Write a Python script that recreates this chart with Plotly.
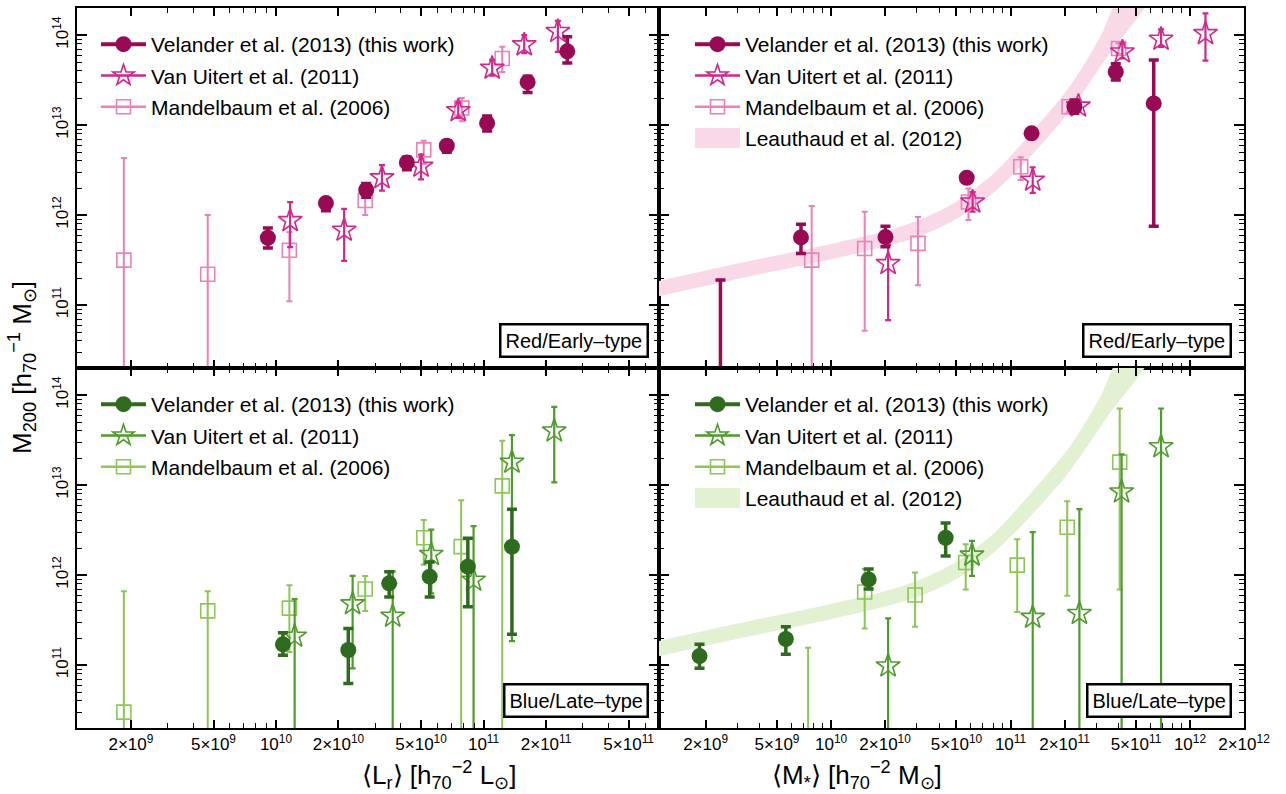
import math
import plotly.graph_objects as go

W, H = 1286, 794
FONT = "Liberation Sans"

# ---------------- data ----------------
# Top-left: red / early-type, vs <L_r>
tl_vel_x = [9.14e9, 1.74e10, 2.72e10, 4.27e10, 6.65e10, 1.04e11, 1.63e11, 2.53e11]
tl_vel_y = [5.6e11, 1.36e12, 1.9e12, 3.85e12, 5.9e12, 1.05e13, 3.0e13, 6.6e13]
tl_vel_hi = [7.2e11, 1.48e12, 2.25e12, 4.4e12, 6.7e12, 1.26e13, 3.5e13, 9.6e13]
tl_vel_lo = [4.3e11, 1.12e12, 1.58e12, 3.2e12, 5.0e12, 8.6e12, 2.3e13, 4.9e13]

tl_vu_x = [1.17e10, 2.13e10, 3.24e10, 5.0e10, 7.55e10, 1.1e11, 1.57e11, 2.28e11]
tl_vu_y = [8.7e11, 6.8e11, 2.6e12, 3.5e12, 1.45e13, 4.3e13, 7.8e13, 1.1e14]
tl_vu_hi = [1.39e12, 1.17e12, 3.6e12, 4.7e12, 1.78e13, 5.3e13, 1.0e14, 1.44e14]
tl_vu_lo = [4.4e11, 3.1e11, 1.87e12, 2.5e12, 1.2e13, 3.55e13, 6.3e13, 6.5e13]

tl_man_x = [1.85e9, 4.69e9, 1.16e10, 2.69e10, 5.15e10, 7.85e10, 1.23e11]
tl_man_y = [3.16e11, 2.2e11, 4.07e11, 1.45e12, 5.3e12, 1.55e13, 5.5e13]
tl_man_hi = [4.3e12, 1.0e12, 6.5e11, 1.8e12, 6.7e12, 2.0e13, 7.4e13]
tl_man_lo = [1e9, 1e9, 1.1e11, 1.0e12, 3.7e12, 1.1e13, 3.9e13]

# Top-right: red / early-type, vs <M*>
tr_vel_x = [2.42e9, 6.8e9, 2.01e10, 5.7e10, 1.31e11, 2.27e11, 3.86e11, 6.28e11]
tr_vel_y = [1e10, 5.65e11, 5.7e11, 2.6e12, 8.1e12, 1.6e13, 3.9e13, 1.74e13]
tr_vel_hi = [1.9e11, 7.9e11, 7.5e11, 2.8e12, 8.7e12, 1.9e13, 4.8e13, 5.3e13]
tr_vel_lo = [1e9, 3.75e11, 4.45e11, 2.4e12, 7.5e12, 1.35e13, 3.16e13, 7.5e11]

tr_vu_x = [2.08e10, 6.15e10, 1.33e11, 2.39e11, 4.2e11, 6.9e11, 1.22e12]
tr_vu_y = [2.9e11, 1.4e12, 2.45e12, 1.63e13, 6.5e13, 9.0e13, 1.04e14]
tr_vu_hi = [4.65e11, 1.8e12, 3.4e12, 1.9e13, 8.1e13, 1.16e14, 1.74e14]
tr_vu_lo = [6.8e10, 1.09e12, 1.77e12, 1.4e13, 5.5e13, 7.4e13, 5.2e13]

tr_man_x = [7.8e9, 1.54e10, 3.05e10, 5.83e10, 1.14e11, 2.12e11, 4.0e11]
tr_man_y = [3.16e11, 4.26e11, 4.85e11, 1.4e12, 3.44e12, 1.6e13, 7.1e13]
tr_man_hi = [1.26e12, 1.09e12, 9.5e11, 1.98e12, 4.4e12, 1.8e13, 8.1e13]
tr_man_lo = [1e9, 5.2e10, 1.66e11, 8.8e11, 2.45e12, 1.4e13, 6.2e13]

# Bottom-left: blue / late-type, vs <L_r>
bl_vel_x = [1.08e10, 2.23e10, 3.51e10, 5.5e10, 8.4e10, 1.37e11]
bl_vel_y = [1.7e11, 1.47e11, 8.1e11, 9.6e11, 1.24e12, 2.07e12]
bl_vel_hi = [2.29e11, 2.55e11, 1.09e12, 1.4e12, 2.57e12, 5.4e12]
bl_vel_lo = [1.29e11, 6.25e10, 5.7e11, 5.7e11, 4.45e11, 2.2e11]

bl_vu_x = [1.23e10, 2.34e10, 3.65e10, 5.6e10, 8.95e10, 1.37e11, 2.19e11]
bl_vu_y = [2.1e11, 4.8e11, 3.5e11, 1.7e12, 8.8e11, 1.8e13, 4.0e13]
bl_vu_hi = [5.4e11, 9.8e11, 1.1e12, 3.2e12, 3.5e12, 3.6e13, 7.4e13]
bl_vu_lo = [1e9, 9.2e10, 1e9, 6.25e11, 1e9, 1.85e11, 1.07e13]

bl_man_x = [1.85e9, 4.69e9, 1.16e10, 2.69e10, 5.15e10, 7.8e10, 1.23e11]
bl_man_y = [3.0e10, 4.0e11, 4.3e11, 7.0e11, 2.6e12, 2.07e12, 9.8e12]
bl_man_hi = [6.6e11, 6.6e11, 7.7e11, 9.8e11, 4.1e12, 6.8e12, 3.1e13]
bl_man_lo = [1e9, 1e9, 1.4e11, 4.0e11, 1.3e12, 1e9, 1e9]

# Bottom-right: blue / late-type, vs <M*>
br_vel_x = [1.85e9, 5.6e9, 1.62e10, 4.35e10]
br_vel_y = [1.26e11, 1.95e11, 8.95e11, 2.6e12]
br_vel_hi = [1.7e11, 2.67e11, 1.17e12, 3.8e12]
br_vel_lo = [9.2e10, 1.32e11, 7.0e11, 1.63e12]

br_vu_x = [2.08e10, 6.1e10, 1.33e11, 2.42e11, 4.16e11, 6.9e11]
br_vu_y = [9.8e10, 1.67e12, 3.4e11, 3.75e11, 8.4e12, 2.67e13]
br_vu_hi = [3.3e11, 2.4e12, 3.0e12, 5.4e12, 2.2e13, 7.1e13]
br_vu_lo = [1e9, 9.8e11, 1e9, 1e9, 1e9, 1e9]

br_man_x = [7.45e9, 1.54e10, 2.94e10, 5.63e10, 1.09e11, 2.07e11, 4.06e11]
br_man_y = [1e10, 6.5e11, 6.0e11, 1.38e12, 1.29e12, 3.4e12, 1.8e13]
br_man_hi = [1.56e11, 1.17e12, 1.07e12, 2.2e12, 2.5e12, 6.6e12, 7.1e13]
br_man_lo = [1e9, 2.55e11, 2.67e11, 6.9e11, 3.9e11, 5.9e11, 6.9e11]

# Leauthaud et al. (2012) band edges (log10 M*, log10 M200)
band_up_lx = [9.0, 9.5, 10.0, 10.3, 10.5, 10.7, 10.9, 11.1, 11.33, 11.5, 11.62]
band_up_ly = [11.25, 11.47, 11.68, 11.82, 11.95, 12.15, 12.45, 12.88, 13.43, 13.98, 14.45]
band_lo_lx = [9.0, 9.5, 10.0, 10.3, 10.5, 10.7, 10.9, 11.1, 11.32, 11.54, 11.78]
band_lo_ly = [11.08, 11.30, 11.51, 11.65, 11.77, 11.96, 12.24, 12.63, 13.13, 13.76, 14.45]

# tick labels
lum_tickvals = [2e9, 5e9, 1e10, 2e10, 5e10, 1e11, 2e11, 5e11]
lum_ticktext = ["2×10<sup>9</sup>", "5×10<sup>9</sup>", "10<sup>10</sup>", "2×10<sup>10</sup>",
                "5×10<sup>10</sup>", "10<sup>11</sup>", "2×10<sup>11</sup>", "5×10<sup>11</sup>"]
mass_tickvals = lum_tickvals + [1e12, 2e12]
mass_ticktext = lum_ticktext + ["10<sup>12</sup>", "2×10<sup>12</sup>"]
y_tickvals = [1e11, 1e12, 1e13, 1e14]
y_ticktext = ["10<sup>11</sup>", "10<sup>12</sup>", "10<sup>13</sup>", "10<sup>14</sup>"]

# ranges
LUM_RANGE = [1.1e9, 7e11]
MASS_RANGE = [1.1e9, 2e12]
Y_RANGE = [2e10, 2e14]

RED = dict(vel="#990a55", vu="#d1278c", man="#ec80b8", band="#f9d8e8")
GRN = dict(vel="#2e6b1f", vu="#4f9b2d", man="#8cc656", band="#e2f1d2")

# ---------------- layout geometry (pixels) ----------------
XL0, XMID, XR1 = 77, 659, 1244
YT0, YMID, YB1 = 8, 368, 728


def px(x):
    return x / W


def py(y):
    return 1 - y / H


def minors(lo, hi):
    out = []
    e = math.floor(math.log10(lo))
    while 10 ** e <= hi:
        for m in range(2, 10):
            v = m * 10 ** e
            if lo <= v <= hi:
                out.append(v)
        e += 1
    return out


fig = go.Figure()

panels = [
    ("tl", "x", "y", (tl_vel_x, tl_vel_y, tl_vel_hi, tl_vel_lo, tl_vu_x, tl_vu_y, tl_vu_hi, tl_vu_lo,
                      tl_man_x, tl_man_y, tl_man_hi, tl_man_lo), RED, False, "legend"),
    ("tr", "x2", "y2", (tr_vel_x, tr_vel_y, tr_vel_hi, tr_vel_lo, tr_vu_x, tr_vu_y, tr_vu_hi, tr_vu_lo,
                        tr_man_x, tr_man_y, tr_man_hi, tr_man_lo), RED, True, "legend2"),
    ("bl", "x3", "y3", (bl_vel_x, bl_vel_y, bl_vel_hi, bl_vel_lo, bl_vu_x, bl_vu_y, bl_vu_hi, bl_vu_lo,
                        bl_man_x, bl_man_y, bl_man_hi, bl_man_lo), GRN, False, "legend3"),
    ("br", "x4", "y4", (br_vel_x, br_vel_y, br_vel_hi, br_vel_lo, br_vu_x, br_vu_y, br_vu_hi, br_vu_lo,
                        br_man_x, br_man_y, br_man_hi, br_man_lo), GRN, True, "legend4"),
]


def errs(y, hi, lo):
    return [h - v for v, h in zip(y, hi)], [v - l for v, l in zip(y, lo)]


for name, xa, ya, d, col, has_band, leg in panels:
    (vx, vy, vhi, vlo, ux, uy, uhi, ulo, mx, my, mhi, mlo) = d
    if has_band:
        bx = [10 ** v for v in band_up_lx] + [10 ** v for v in band_lo_lx[::-1]]
        by = [10 ** v for v in band_up_ly] + [10 ** v for v in band_lo_ly[::-1]]
        fig.add_trace(go.Scatter(x=bx, y=by, xaxis=xa, yaxis=ya, mode="lines", fill="toself",
                                 fillcolor=col["band"], line=dict(width=0, color=col["band"], shape="spline",
                                                                  smoothing=0.8),
                                 showlegend=False, hoverinfo="skip"))
    ep, em = errs(my, mhi, mlo)
    fig.add_trace(go.Scatter(x=mx, y=my, xaxis=xa, yaxis=ya, mode="markers", showlegend=False,
                             marker=dict(symbol="square-open", size=14, color=col["man"],
                                         line=dict(width=1.6, color=col["man"])),
                             error_y=dict(type="data", symmetric=False, array=ep, arrayminus=em,
                                          color=col["man"], thickness=2, width=3)))
    ep, em = errs(uy, uhi, ulo)
    fig.add_trace(go.Scatter(x=ux, y=uy, xaxis=xa, yaxis=ya, mode="markers", showlegend=False,
                             marker=dict(symbol="star-open", size=18, color=col["vu"],
                                         line=dict(width=1.6, color=col["vu"])),
                             error_y=dict(type="data", symmetric=False, array=ep, arrayminus=em,
                                          color=col["vu"], thickness=2.2, width=3)))
    ep, em = errs(vy, vhi, vlo)
    fig.add_trace(go.Scatter(x=vx, y=vy, xaxis=xa, yaxis=ya, mode="markers", showlegend=False,
                             marker=dict(symbol="circle", size=16, color=col["vel"]),
                             error_y=dict(type="data", symmetric=False, array=ep, arrayminus=em,
                                          color=col["vel"], thickness=3.5, width=5)))
    # legend entries
    fig.add_trace(go.Scatter(x=[None], y=[None], xaxis=xa, yaxis=ya, mode="lines+markers",
                             name="Velander et al. (2013) (this work)", legend=leg,
                             legendgroup=name + "a",
                             marker=dict(symbol="circle", size=16, color=col["vel"]),
                             line=dict(color=col["vel"], width=4)))
    fig.add_trace(go.Scatter(x=[None], y=[None], xaxis=xa, yaxis=ya, mode="lines+markers",
                             name="Van Uitert et al. (2011)", legend=leg, legendgroup=name + "b",
                             marker=dict(symbol="star-open", size=16, color=col["vu"],
                                         line=dict(width=1.6, color=col["vu"])),
                             line=dict(color=col["vu"], width=2.5)))
    fig.add_trace(go.Scatter(x=[None], y=[None], xaxis=xa, yaxis=ya, mode="lines+markers",
                             name="Mandelbaum et al. (2006)", legend=leg, legendgroup=name + "c",
                             marker=dict(symbol="square-open", size=14, color=col["man"],
                                         line=dict(width=1.6, color=col["man"])),
                             line=dict(color=col["man"], width=2.5)))
    if has_band:
        fig.add_trace(go.Scatter(x=[None], y=[None], xaxis=xa, yaxis=ya, mode="lines",
                                 name="Leauthaud et al. (2012)", legend=leg, legendgroup=name + "d",
                                 line=dict(color=col["band"], width=20)))


def xaxis_cfg(domain, anchor, vals, text, rng, labels):
    return dict(type="log", domain=domain, anchor=anchor,
                range=[math.log10(rng[0]), math.log10(rng[1])],
                tickmode="array", tickvals=vals, ticktext=text, showticklabels=labels,
                ticks="inside", ticklen=8, tickwidth=1.5, tickcolor="black",
                minor=dict(tickmode="array", tickvals=[v for v in minors(*rng) if v not in vals],
                           ticks="inside", ticklen=5, tickwidth=1.2, tickcolor="black", showgrid=False),
                showline=True, linewidth=2, linecolor="black", mirror="allticks",
                showgrid=False, zeroline=False, automargin=False,
                tickfont=dict(family=FONT, size=17, color="black"))


def yaxis_cfg(domain, anchor, labels):
    return dict(type="log", domain=domain, anchor=anchor,
                range=[math.log10(Y_RANGE[0]), math.log10(Y_RANGE[1])],
                tickmode="array", tickvals=y_tickvals, ticktext=y_ticktext, showticklabels=labels,
                tickangle=-90,
                ticks="inside", ticklen=10, tickwidth=1.5, tickcolor="black",
                minor=dict(tickmode="array", tickvals=minors(*Y_RANGE),
                           ticks="inside", ticklen=5, tickwidth=1.2, tickcolor="black", showgrid=False),
                showline=True, linewidth=2, linecolor="black", mirror="allticks",
                showgrid=False, zeroline=False, automargin=False,
                tickfont=dict(family=FONT, size=17, color="black"))


xdL = [px(XL0), px(XMID)]
xdR = [px(XMID), px(XR1)]
ydT = [py(YMID), py(YT0)]
ydB = [py(YB1), py(YMID)]

legend_common = dict(bgcolor="rgba(0,0,0,0)", borderwidth=0, xanchor="left", yanchor="top",
                     font=dict(family=FONT, size=21, color="black"), itemwidth=45,
                     traceorder="grouped", tracegroupgap=1, itemclick=False)

fig.update_layout(
    width=W, height=H, template="none",
    margin=dict(l=0, r=0, t=0, b=0),
    paper_bgcolor="white", plot_bgcolor="white",
    font=dict(family=FONT, color="black"),
    xaxis=xaxis_cfg(xdL, "y", lum_tickvals, lum_ticktext, LUM_RANGE, False),
    yaxis=yaxis_cfg(ydT, "x", True),
    xaxis2=xaxis_cfg(xdR, "y2", mass_tickvals, mass_ticktext, MASS_RANGE, False),
    yaxis2=yaxis_cfg(ydT, "x2", False),
    xaxis3=xaxis_cfg(xdL, "y3", lum_tickvals, lum_ticktext, LUM_RANGE, True),
    yaxis3=yaxis_cfg(ydB, "x3", True),
    xaxis4=xaxis_cfg(xdR, "y4", mass_tickvals, mass_ticktext, MASS_RANGE, True),
    yaxis4=yaxis_cfg(ydB, "x4", False),
    legend=dict(legend_common, x=px(96), y=py(24)),
    legend2=dict(legend_common, x=px(690), y=py(24)),
    legend3=dict(legend_common, x=px(96), y=py(384)),
    legend4=dict(legend_common, x=px(690), y=py(384)),
    showlegend=True,
)

# taller swatch behind the band legend entries (legend decoration)
for col, y0 in ((RED, 128), (GRN, 488)):
    fig.add_shape(type="rect", xref="paper", yref="paper", x0=px(695), x1=px(740),
                  y0=py(y0 + 20), y1=py(y0), fillcolor=col["band"], line=dict(width=0), layer="above")

box = dict(xref="paper", yref="paper", showarrow=False, xanchor="right", yanchor="bottom",
           bordercolor="black", borderwidth=2.5, borderpad=4, bgcolor="white",
           font=dict(family=FONT, size=20, color="black"))
fig.add_annotation(box, x=px(XMID - 10), y=py(YMID - 10), text="Red/Early–type")
fig.add_annotation(box, x=px(XR1 - 12), y=py(YMID - 10), text="Red/Early–type")
fig.add_annotation(box, x=px(XMID - 10), y=py(YB1 - 10), text="Blue/Late–type")
fig.add_annotation(box, x=px(XR1 - 12), y=py(YB1 - 10), text="Blue/Late–type")

title_font = dict(family=FONT, size=26, color="black")
fig.add_annotation(xref="paper", yref="paper", x=px((XL0 + XMID) / 2 - 8), y=py(775), yanchor="middle",
                   showarrow=False,
                   text="⟨L<sub>r</sub>⟩ [h<sub>70</sub><sup>−2</sup> L<sub>⊙</sub>]", font=title_font)
fig.add_annotation(xref="paper", yref="paper", x=px((XMID + XR1) / 2 - 8), y=py(775), yanchor="middle",
                   showarrow=False,
                   text="⟨M<sub>*</sub>⟩ [h<sub>70</sub><sup>−2</sup> M<sub>⊙</sub>]", font=title_font)
fig.add_annotation(xref="paper", yref="paper", x=px(22), y=py(YMID), xanchor="center", yanchor="middle",
                   showarrow=False, textangle=-90,
                   text="M<sub>200</sub> [h<sub>70</sub><sup>−1</sup> M<sub>⊙</sub>]", font=title_font)

fig.write_html("out.html", config={"displayModeBar": False},
               post_script="document.body.style.margin='0';document.body.style.overflow='hidden';")
